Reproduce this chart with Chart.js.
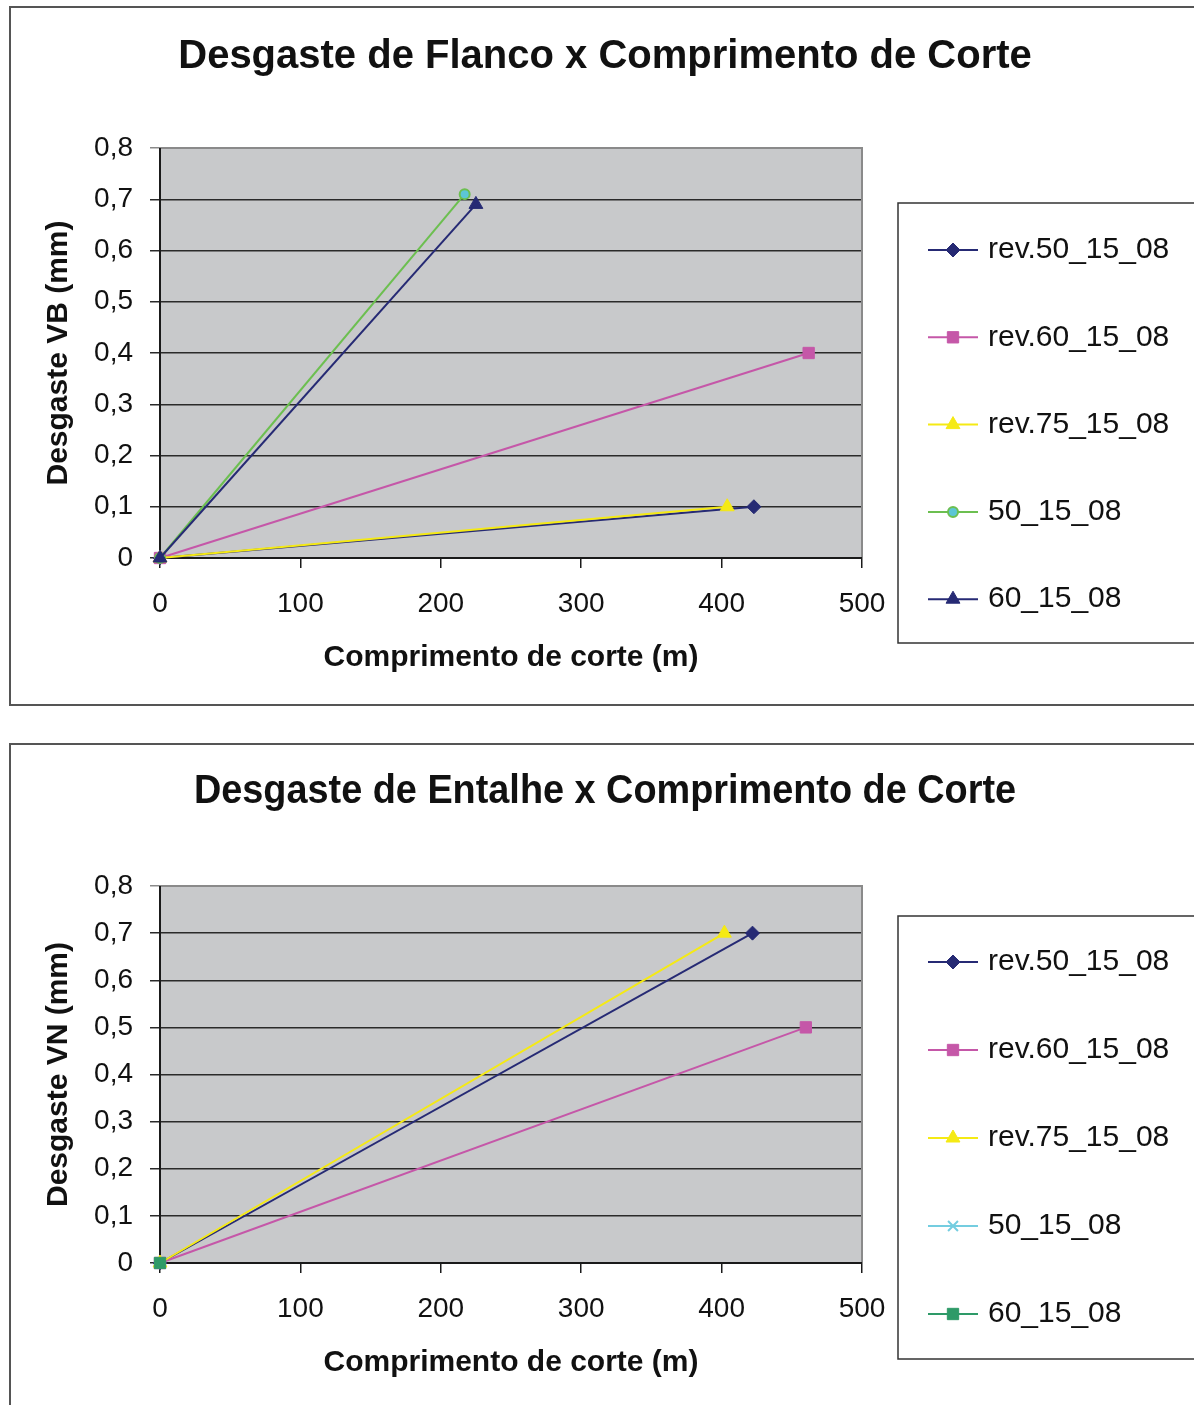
<!DOCTYPE html>
<html>
<head>
<meta charset="utf-8">
<script src="https://cdn.jsdelivr.net/npm/chart.js@4.4.1/dist/chart.umd.min.js"></script>
<style>
  html, body { margin: 0; padding: 0; background: #fff; }
  body { width: 1194px; height: 1405px; position: relative; overflow: hidden; }
  .frame { position: absolute; border: 2px solid #555; box-sizing: border-box; }
  canvas { position: absolute; left: 0; }
</style>
</head>
<body>
<div class="frame" style="left:9px;top:6px;width:1200px;height:700px"></div>
<div class="frame" style="left:9px;top:743px;width:1200px;height:700px"></div>
<canvas id="vbChart" width="1194" height="720" style="top:0"></canvas>
<canvas id="vnChart" width="1194" height="685" style="top:720px"></canvas>
<script>
// séries (comprimento de corte em m, desgaste em mm)
const seriesNames = ["rev.50_15_08", "rev.60_15_08", "rev.75_15_08", "50_15_08", "60_15_08"];

const vbLength = [[0, 423], [0, 462], [0, 404], [0, 217], [0, 225]];
const vbWear   = [[0, 0.1], [0, 0.4], [0, 0.1], [0, 0.71], [0, 0.69]];

const vnLength = [[0, 422], [0, 460], [0, 402], [0], [0]];
const vnWear   = [[0, 0.7], [0, 0.5], [0, 0.7], [0], [0]];

const xTicks = [0, 100, 200, 300, 400, 500];
const yTicks = [0, 0.1, 0.2, 0.3, 0.4, 0.5, 0.6, 0.7, 0.8];

const FONT = "'Liberation Sans', Arial, Helvetica, sans-serif";

const vbStyles = [
  { color: "#262a74", fill: "#262a74", point: "rectRot", r: 7, bw: 1 },
  { color: "#c557a8", fill: "#c557a8", point: "rect", r: 8, bw: 1 },
  { color: "#f5ea14", fill: "#f5ea14", point: "triangle", r: 8, bw: 1 },
  { color: "#6cbf50", fill: "#5cc6d6", point: "circle", r: 5, bw: 2 },
  { color: "#262a74", fill: "#262a74", point: "triangle", r: 8, bw: 1 },
];
const vnStyles = [
  { color: "#262a74", fill: "#262a74", point: "rectRot", r: 7, bw: 1 },
  { color: "#c557a8", fill: "#c557a8", point: "rect", r: 8, bw: 1 },
  { color: "#f5ea14", fill: "#f5ea14", point: "triangle", r: 8, bw: 1 },
  { color: "#74cde0", fill: "#74cde0", point: "crossRot", r: 7, bw: 2 },
  { color: "#2e9a68", fill: "#2e9a68", point: "rect", r: 8, bw: 1 },
];

function fmtComma(v) {
  return v === 0 ? "0" : v.toFixed(1).replace(".", ",");
}

// fundo cinza + moldura da área de plotagem
const plotBg = {
  id: "plotBg",
  beforeDraw(chart) {
    const { ctx, chartArea: a } = chart;
    ctx.save();
    ctx.fillStyle = "#c8c9cb";
    ctx.fillRect(a.left, a.top, a.right - a.left, a.bottom - a.top);
    ctx.restore();
  },
  beforeDatasetsDraw(chart) {
    const { ctx, chartArea: a } = chart;
    ctx.save();
    ctx.strokeStyle = "#8a8a8a";
    ctx.lineWidth = 2;
    ctx.beginPath();
    ctx.moveTo(a.left, a.top);
    ctx.lineTo(a.right, a.top);
    ctx.lineTo(a.right, a.bottom);
    ctx.stroke();
    ctx.strokeStyle = "#1a1a1a";
    ctx.beginPath();
    ctx.moveTo(a.left, a.top);
    ctx.lineTo(a.left, a.bottom);
    ctx.lineTo(a.right, a.bottom);
    ctx.stroke();
    ctx.restore();
  }
};

// título centrado na moldura inteira
const boxTitle = {
  id: "boxTitle",
  afterDraw(chart, args, opts) {
    const ctx = chart.ctx;
    ctx.save();
    ctx.translate(opts.x, opts.y);
    ctx.scale(opts.sx || 1, 1);
    ctx.font = "bold 40px " + FONT;
    ctx.fillStyle = "#111";
    ctx.textAlign = "center";
    ctx.textBaseline = "middle";
    ctx.fillText(opts.text, 0, 0);
    ctx.restore();
  }
};

// legenda estilo Excel (linha + marcador) em caixa
const boxLegend = {
  id: "boxLegend",
  afterDraw(chart, args, opts) {
    const ctx = chart.ctx;
    ctx.save();
    ctx.fillStyle = "#fff";
    ctx.strokeStyle = "#333";
    ctx.lineWidth = 1.5;
    ctx.fillRect(opts.x, opts.y, 400, opts.h);
    ctx.strokeRect(opts.x, opts.y, 400, opts.h);
    chart.data.datasets.forEach((ds, i) => {
      const y = opts.y + opts.first + i * opts.step;
      const lx = opts.x + 30;
      ctx.strokeStyle = ds.borderColor;
      ctx.lineWidth = 2;
      ctx.beginPath();
      ctx.moveTo(lx, y);
      ctx.lineTo(lx + 50, y);
      ctx.stroke();
      ctx.fillStyle = ds.pointBackgroundColor;
      ctx.strokeStyle = ds.pointBorderColor;
      ctx.lineWidth = ds.pointBorderWidth;
      Chart.helpers.drawPoint(ctx, {
        pointStyle: ds.pointStyle,
        radius: ds.pointRadius,
        rotation: 0,
        borderWidth: ds.pointBorderWidth
      }, lx + 25, y);
      ctx.fillStyle = "#111";
      ctx.font = "30px " + FONT;
      ctx.textAlign = "left";
      ctx.textBaseline = "middle";
      ctx.fillText(ds.label, lx + 60, y);
    });
    ctx.restore();
  }
};

function buildDatasets(xs, ys, styles) {
  return seriesNames.map((name, i) => ({
    label: name,
    data: xs[i].map((x, k) => ({ x, y: ys[i][k] })),
    order: seriesNames.length - i,
    borderColor: styles[i].color,
    backgroundColor: styles[i].fill,
    pointBackgroundColor: styles[i].fill,
    pointBorderColor: styles[i].color,
    pointStyle: styles[i].point,
    pointRadius: styles[i].r,
    pointBorderWidth: styles[i].bw,
    borderWidth: 2,
    tension: 0,
    clip: false,
  }));
}

function makeChart(id, xs, ys, styles, cfg) {
  return new Chart(document.getElementById(id), {
    type: "line",
    data: { datasets: buildDatasets(xs, ys, styles) },
    plugins: [plotBg, boxTitle, boxLegend],
    options: {
      responsive: false,
      animation: false,
      events: [],
      layout: { padding: { left: 30, right: 332, top: cfg.top, bottom: cfg.bottom } },
      plugins: {
        legend: { display: false },
        title: { display: false },
        tooltip: { enabled: false },
        boxTitle: { text: cfg.title, x: 605, y: cfg.titleY, sx: cfg.titleSx },
        boxLegend: { x: 898, y: cfg.legY, h: cfg.legH, first: cfg.legFirst, step: cfg.legStep },
      },
      scales: {
        x: {
          type: "linear",
          min: 0, max: 500,
          afterBuildTicks(s) { s.ticks = xTicks.map(v => ({ value: v })); },
          afterFit(s) { s.height = 130; },
          grid: { drawOnChartArea: false, drawTicks: true, tickLength: 10, color: "#1a1a1a", lineWidth: 1.5 },
          border: { display: false },
          ticks: { color: "#111", padding: 19, maxRotation: 0, font: { family: FONT, size: 28 } },
          title: {
            display: true, text: "Comprimento de corte (m)", color: "#111",
            padding: { top: 0, bottom: 12 },
            font: { family: FONT, size: 30, weight: "bold" }
          }
        },
        y: {
          type: "linear",
          min: 0, max: 0.8,
          afterBuildTicks(s) { s.ticks = yTicks.map(v => ({ value: v })); },
          afterFit(s) { s.width = 130; },
          grid: {
            drawTicks: true, tickLength: 10, lineWidth: 1.5,
            color: (c) => c.tick && c.tick.value === 0.8 ? "#8a8a8a" : "#2a2a2a"
          },
          border: { display: false },
          ticks: { color: "#111", padding: 17, callback: fmtComma, font: { family: FONT, size: 28 } },
          title: {
            display: true, text: cfg.yTitle, color: "#111",
            padding: { top: 11, bottom: 0 },
            font: { family: FONT, size: 30, weight: "bold" }
          }
        }
      }
    }
  });
}

makeChart("vbChart", vbLength, vbWear, vbStyles, {
  title: "Desgaste de Flanco x Comprimento de Corte", titleY: 57, titleSx: 1,
  yTitle: "Desgaste VB (mm)",
  top: 148, bottom: 720 - 558 - 130,
  legY: 203, legH: 440, legFirst: 47, legStep: 87.3
});

makeChart("vnChart", vnLength, vnWear, vnStyles, {
  title: "Desgaste de Entalhe x Comprimento de Corte", titleY: 72, titleSx: 0.946,
  yTitle: "Desgaste VN (mm)",
  top: 166, bottom: 685 - 543 - 130,
  legY: 196, legH: 443, legFirst: 46, legStep: 88
});
</script>
</body>
</html>
